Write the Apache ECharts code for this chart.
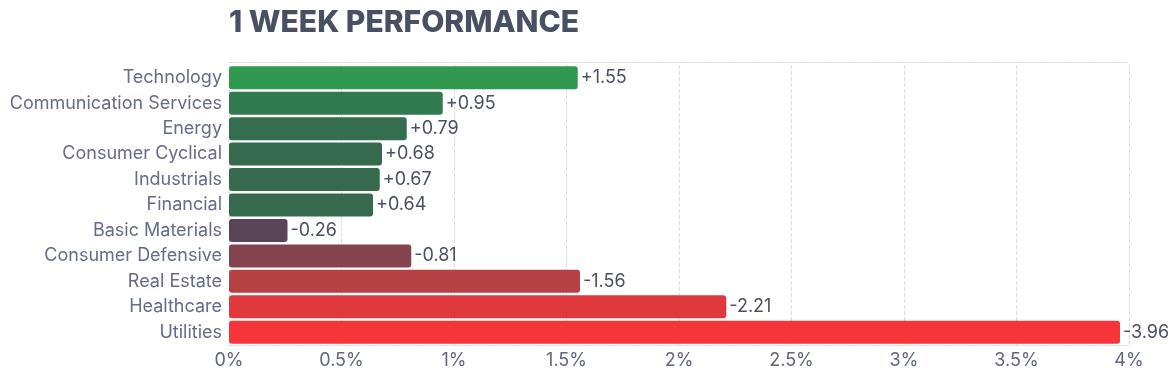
<!DOCTYPE html>
<html>
<head>
<meta charset="utf-8">
<script src="https://cdn.jsdelivr.net/npm/echarts@6/dist/echarts.min.js"></script>
<style>
  html, body { margin: 0; padding: 0; background: #fff; }
  #chart { width: 1176px; height: 378px; }
</style>
</head>
<body>
<div id="chart"></div>
<script>
var sectors = ['Technology', 'Communication Services', 'Energy', 'Consumer Cyclical', 'Industrials',
  'Financial', 'Basic Materials', 'Consumer Defensive', 'Real Estate', 'Healthcare', 'Utilities'];
var changes = [1.55, 0.95, 0.79, 0.68, 0.67, 0.64, -0.26, -0.81, -1.56, -2.21, -3.96];
var barColors = ['#2f9a4e', '#317a50', '#336e4e', '#356a4e', '#356a4e', '#366a4e',
  '#5a4455', '#83444e', '#b54145', '#e0393d', '#f53538'];
var tickLabels = ['0%', '0.5%', '1%', '1.5%', '2%', '2.5%', '3%', '3.5%', '4%'];

var chart = echarts.init(document.getElementById('chart'));

var seriesData = changes.map(function (v, i) {
  return {
    value: Math.abs(v),
    raw: v,
    itemStyle: { color: barColors[i] }
  };
});

var option = {
  animation: false,
  textStyle: { fontFamily: 'Inter' },
  title: {
    text: '1 WEEK PERFORMANCE',
    left: 224,
    top: 3,
    textStyle: { fontFamily: 'Inter', fontSize: 30, fontWeight: 800, color: '#4a5064' }
  },
  grid: { left: 229, right: 47, top: 65, bottom: 33 },
  xAxis: [{
    type: 'value',
    min: 0,
    max: 4,
    interval: 0.5,
    axisLine: { show: true, lineStyle: { color: '#dcdcdc', type: 'dashed' } },
    axisTick: { show: false },
    splitLine: { show: true, lineStyle: { color: '#dcdcdc', type: 'dashed' } },
    axisLabel: {
      color: '#5f6780',
      fontSize: 18,
      margin: 7,
      formatter: function (v) { return tickLabels[Math.round(v / 0.5)]; }
    }
  }, {
    type: 'value',
    position: 'top',
    offset: 3,
    min: 0,
    max: 4,
    axisLine: { show: true, lineStyle: { color: '#dcdcdc', type: 'dashed' } },
    axisTick: { show: false },
    axisLabel: { show: false },
    splitLine: { show: false }
  }],
  yAxis: {
    type: 'category',
    inverse: true,
    data: sectors,
    axisLine: { show: false },
    axisTick: { show: false },
    axisLabel: { color: '#646c88', fontSize: 18, margin: 7 }
  },
  series: [{
    type: 'bar',
    xAxisIndex: 0,
    data: seriesData,
    barWidth: 23,
    itemStyle: { borderRadius: 3 },
    label: {
      show: true,
      position: 'right',
      distance: 3,
      color: '#4a5064',
      fontSize: 18,
      formatter: function (p) {
        var v = p.data.raw;
        return (v > 0 ? '+' : '') + v.toFixed(2);
      }
    }
  }]
};

chart.setOption(option);
</script>
</body>
</html>
